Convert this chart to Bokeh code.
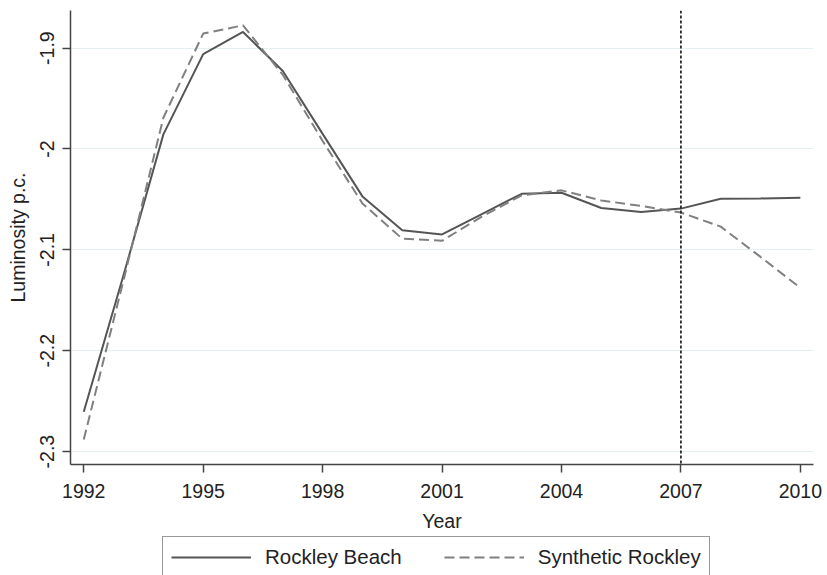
from bokeh.plotting import figure
from bokeh.layouts import column
from bokeh.models import Range1d, FixedTicker, CustomJSTickFormatter, Span, Legend, LegendItem
from bokeh.embed import file_html
from bokeh.resources import INLINE

years = list(range(1992, 2011))
rockley = [-2.2605, -2.125, -1.9855, -1.906, -1.884, -1.9226, -1.985, -2.047, -2.0805, -2.0847,
           -2.0645, -2.0444, -2.0434, -2.0585, -2.0624, -2.0591, -2.0493, -2.049, -2.0483]
synthetic = [-2.288, -2.13, -1.969, -1.8856, -1.8774, -1.9265, -1.992, -2.054, -2.089, -2.091,
             -2.067, -2.046, -2.041, -2.051, -2.0565, -2.063, -2.077, -2.107, -2.1377]
x_ticks = [1992, 1995, 1998, 2001, 2004, 2007, 2010]
y_ticks = [-2.3, -2.2, -2.1, -2.0, -1.9]
treat_year = 2007
series_names = ["Rockley Beach", "Synthetic Rockley"]

FONT = "Liberation Sans"
TXT = "#222222"
AX = "#444444"
SOLID = "#555555"
DASH = "#808080"

p = figure(width=827, height=534, output_backend="svg", toolbar_location=None,
           x_range=Range1d(1991.667, 2010.33), y_range=Range1d(-2.3128, -1.8627),
           min_border_left=70, min_border_right=14, min_border_top=10, min_border_bottom=66)
p.outline_line_color = None
p.background_fill_color = "white"
p.border_fill_color = "white"

p.xgrid.grid_line_color = None
p.ygrid.grid_line_color = "#e6eff1"
p.ygrid.grid_line_width = 1.2
p.ygrid.ticker = FixedTicker(ticks=y_ticks)

for ax in (p.xaxis[0], p.yaxis[0]):
    ax.axis_line_color = AX
    ax.axis_line_width = 1.5
    ax.major_tick_line_color = AX
    ax.major_tick_line_width = 1.5
    ax.major_tick_out = 8
    ax.major_tick_in = 0
    ax.minor_tick_line_color = None
    ax.major_label_text_font = FONT
    ax.major_label_text_font_size = "19.5px"
    ax.major_label_text_color = TXT
    ax.axis_label_text_font = FONT
    ax.axis_label_text_font_size = "19.5px"
    ax.axis_label_text_font_style = "normal"
    ax.axis_label_text_color = TXT

p.xaxis.ticker = FixedTicker(ticks=x_ticks)
p.xaxis.axis_label = "Year"
p.xaxis.major_label_standoff = 11
p.xaxis.axis_label_standoff = 9

p.yaxis.ticker = FixedTicker(ticks=y_ticks)
p.yaxis.formatter = CustomJSTickFormatter(code="return String(Math.round(tick*10)/10);")
p.yaxis.major_label_orientation = "parallel"
p.yaxis.axis_label = "Luminosity p.c."
p.yaxis.major_label_standoff = 8
p.yaxis.axis_label_standoff = 9

p.line(years, rockley, line_color=SOLID, line_width=2)
p.line(years, synthetic, line_color=DASH, line_width=2, line_dash="10 5")

p.add_layout(Span(location=treat_year, dimension="height", line_color="#111111",
                  line_width=1.6, line_dash="3 2"))

# legend strip below the chart (its frame is aligned with the chart's frame)
lg = figure(width=827, height=41, output_backend="svg", toolbar_location=None,
            x_range=Range1d(0, 10), y_range=Range1d(0, 10),
            x_axis_type=None, y_axis_type=None,
            min_border_left=70, min_border_right=14, min_border_top=0, min_border_bottom=0)
lg.outline_line_color = None
lg.xgrid.grid_line_color = None
lg.ygrid.grid_line_color = None
# legend-only renderers, placed outside the visible range
l1 = lg.line(x=[-20, -10], y=[-20, -20], line_color=SOLID, line_width=2)
l2 = lg.line(x=[-20, -10], y=[-20, -20], line_color=DASH, line_width=2, line_dash="10 5")

legend = Legend(items=[LegendItem(label=series_names[0], renderers=[l1]),
                       LegendItem(label=series_names[1], renderers=[l2])],
                orientation="horizontal", location=(92, -3),
                label_text_font=FONT, label_text_font_size="20.5px", label_text_color=TXT,
                glyph_width=80, glyph_height=20, label_height=20, label_standoff=14,
                spacing=42, padding=8, margin=0,
                border_line_color="#333333", border_line_width=1.5,
                background_fill_alpha=1.0)
lg.add_layout(legend, "center")

layout = column(p, lg, spacing=0)
open("out.html", "w").write(file_html(layout, INLINE))
